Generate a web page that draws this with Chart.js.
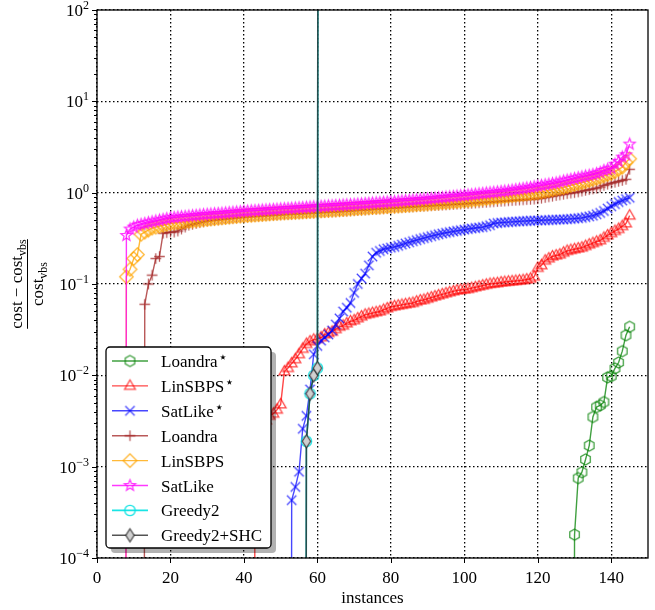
<!DOCTYPE html>
<html>
<head>
<meta charset="utf-8">
<script src="https://cdn.jsdelivr.net/npm/chart.js@4/dist/chart.umd.min.js"></script>
<style>
  body { margin: 0; background: #fff; }
  #wrap { width: 655px; height: 610px; }
</style>
</head>
<body>
<div id="wrap"><canvas id="chart" width="655" height="610"></canvas></div>
<script>
const SERIF = '"Liberation Serif", "DejaVu Serif", serif';

// ---- DATA (value 0 = same as VBS, Infinity = no solution) ----
const seriesNames = ['Loandra⋆', 'LinSBPS⋆', 'SatLike⋆', 'Loandra', 'LinSBPS', 'SatLike', 'Greedy2', 'Greedy2+SHC'];
const xTicks = [0, 20, 40, 60, 80, 100, 120, 140];
const yDecades = [-4, -3, -2, -1, 0, 1, 2];

const loandraStarFrom = 130;
const loandraStar = [0.00018, 0.00075, 0.00087, 0.0012, 0.0017, 0.0035, 0.0045, 0.0047, 0.0051, 0.0095,
  0.0098, 0.0119, 0.0138, 0.0184, 0.0275, 0.034];

const linSBPSStarFrom = 43;
const linSBPSStar = [0.0015, 0.002, 0.0026, 0.0032, 0.0036, 0.0038, 0.0042,
  0.0048, 0.011, 0.012, 0.0135, 0.015, 0.017, 0.0195, 0.022, 0.0235, 0.0245,
  0.025, 0.026, 0.028, 0.029, 0.030, 0.032, 0.034, 0.035, 0.037, 0.039,
  0.040, 0.042, 0.044, 0.046, 0.047, 0.048, 0.049, 0.050, 0.052, 0.054,
  0.056, 0.057, 0.058, 0.059, 0.060, 0.061, 0.062, 0.064, 0.066, 0.067,
  0.069, 0.071, 0.073, 0.075, 0.077, 0.079, 0.081, 0.083, 0.085, 0.086,
  0.087, 0.088, 0.09, 0.092, 0.094, 0.096, 0.098, 0.10, 0.101, 0.102,
  0.104, 0.105, 0.106, 0.107, 0.108, 0.109, 0.11, 0.112, 0.114, 0.12,
  0.15, 0.16, 0.18, 0.19, 0.20, 0.205, 0.21, 0.22, 0.23, 0.235,
  0.24, 0.245, 0.25, 0.26, 0.27, 0.28, 0.29, 0.30, 0.32, 0.34,
  0.36, 0.38, 0.40, 0.43, 0.46, 0.56];

const satLikeStarFrom = 53;
const satLikeStar = [0.00043, 0.0006, 0.00088, 0.0026, 0.0036, 0.007, 0.017,
  0.021, 0.024, 0.026, 0.028, 0.031, 0.036, 0.042, 0.05, 0.055, 0.062,
  0.08, 0.10, 0.115, 0.13, 0.16, 0.20, 0.22, 0.23, 0.24, 0.245,
  0.25, 0.255, 0.262, 0.27, 0.278, 0.286, 0.294, 0.302, 0.31, 0.318,
  0.326, 0.334, 0.342, 0.35, 0.357, 0.364, 0.37, 0.376, 0.382, 0.388,
  0.394, 0.40, 0.405, 0.41, 0.415, 0.42, 0.43, 0.44, 0.46, 0.465,
  0.47, 0.473, 0.476, 0.479, 0.482, 0.485, 0.488, 0.49, 0.492, 0.494,
  0.496, 0.498, 0.50, 0.502, 0.504, 0.506, 0.508, 0.51, 0.513, 0.516,
  0.52, 0.525, 0.53, 0.54, 0.55, 0.56, 0.58, 0.60, 0.63, 0.67,
  0.71, 0.75, 0.79, 0.82, 0.85, 0.88];

const loandraFrom = 13;
const loandra = [0.06, 0.10, 0.125, 0.19, 0.20, 0.36, 0.365,
  0.37, 0.37, 0.38, 0.40, 0.42, 0.44, 0.45, 0.46, 0.47, 0.48,
  0.49, 0.495, 0.50, 0.505, 0.51, 0.515, 0.52, 0.525, 0.53, 0.535,
  0.54, 0.543, 0.546, 0.55, 0.553, 0.556, 0.56, 0.563, 0.566, 0.57,
  0.573, 0.576, 0.579, 0.582, 0.585, 0.588, 0.591, 0.594, 0.597, 0.60,
  0.603, 0.606, 0.609, 0.612, 0.615, 0.618, 0.621, 0.624, 0.628, 0.632,
  0.636, 0.64, 0.644, 0.648, 0.652, 0.656, 0.66, 0.664, 0.668, 0.672,
  0.676, 0.68, 0.684, 0.688, 0.692, 0.696, 0.70, 0.704, 0.708, 0.712,
  0.716, 0.72, 0.724, 0.728, 0.732, 0.736, 0.74, 0.744, 0.748, 0.752,
  0.756, 0.76, 0.765, 0.77, 0.775, 0.78, 0.785, 0.79, 0.795, 0.80,
  0.805, 0.81, 0.815, 0.82, 0.825, 0.83, 0.835, 0.84, 0.845, 0.85,
  0.86, 0.87, 0.885, 0.90, 0.915, 0.93, 0.945, 0.96, 0.975, 0.99,
  1.0, 1.02, 1.04, 1.06, 1.08, 1.10, 1.12, 1.15, 1.20, 1.24,
  1.27, 1.30, 1.33, 1.36, 1.40, 1.8];

const linSBPSFrom = 8;
const linSBPS = [0.12, 0.145,
  0.19, 0.21, 0.35, 0.37, 0.39, 0.41, 0.42, 0.43, 0.44, 0.45,
  0.46, 0.465, 0.47, 0.475, 0.48, 0.485, 0.49, 0.495, 0.50, 0.505,
  0.51, 0.515, 0.52, 0.525, 0.53, 0.535, 0.54, 0.545, 0.55, 0.555,
  0.56, 0.563, 0.566, 0.57, 0.574, 0.578, 0.582, 0.586, 0.59, 0.594,
  0.598, 0.60, 0.603, 0.606, 0.61, 0.613, 0.616, 0.62, 0.623, 0.626,
  0.63, 0.633, 0.636, 0.64, 0.644, 0.648, 0.652, 0.656, 0.66, 0.664,
  0.668, 0.672, 0.676, 0.68, 0.684, 0.688, 0.692, 0.696, 0.70, 0.704,
  0.708, 0.712, 0.716, 0.72, 0.725, 0.73, 0.735, 0.74, 0.745, 0.75,
  0.755, 0.76, 0.766, 0.772, 0.778, 0.784, 0.79, 0.796, 0.802, 0.808,
  0.815, 0.822, 0.83, 0.838, 0.846, 0.855, 0.864, 0.873, 0.882, 0.891,
  0.90, 0.91, 0.92, 0.93, 0.94, 0.95, 0.96, 0.97, 0.98, 0.99,
  1.0, 1.02, 1.04, 1.06, 1.08, 1.10, 1.12, 1.14, 1.17, 1.20,
  1.23, 1.26, 1.29, 1.32, 1.36, 1.40, 1.44, 1.48, 1.53, 1.58,
  1.63, 1.70, 1.80, 1.90, 2.15, 2.35];

const satLikeFrom = 8;
const satLike = [0.34, 0.40,
  0.42, 0.44, 0.45, 0.46, 0.47, 0.48, 0.49, 0.50, 0.51, 0.52,
  0.53, 0.535, 0.54, 0.545, 0.55, 0.555, 0.56, 0.565, 0.57, 0.575,
  0.58, 0.584, 0.588, 0.592, 0.596, 0.60, 0.605, 0.61, 0.615, 0.62,
  0.625, 0.628, 0.632, 0.636, 0.64, 0.644, 0.648, 0.652, 0.656, 0.66,
  0.664, 0.668, 0.672, 0.676, 0.68, 0.684, 0.688, 0.692, 0.696, 0.70,
  0.704, 0.708, 0.712, 0.716, 0.72, 0.724, 0.728, 0.732, 0.736, 0.74,
  0.745, 0.75, 0.755, 0.76, 0.765, 0.77, 0.775, 0.78, 0.785, 0.79,
  0.795, 0.80, 0.806, 0.812, 0.818, 0.824, 0.83, 0.836, 0.842, 0.848,
  0.855, 0.862, 0.87, 0.878, 0.886, 0.894, 0.902, 0.91, 0.918, 0.926,
  0.935, 0.944, 0.953, 0.962, 0.972, 0.982, 0.992, 1.0, 1.01, 1.02,
  1.03, 1.04, 1.05, 1.065, 1.08, 1.095, 1.11, 1.125, 1.14, 1.16,
  1.18, 1.2, 1.22, 1.24, 1.26, 1.28, 1.31, 1.34, 1.37, 1.40,
  1.43, 1.46, 1.49, 1.52, 1.55, 1.58, 1.62, 1.67, 1.75, 1.80,
  1.85, 2.05, 2.2, 2.45, 2.6, 3.4];

const greedy2From = 57;
const greedy2 = [0.0019, 0.0063, 0.010, 0.012, Infinity];
const greedy2SHCFrom = 57;
const greedy2SHC = [0.0019, 0.0063, 0.010, 0.012, Infinity];

// ---- MARKERS ----
function makeMarker(kind, stroke, fill) {
  const c = document.createElement('canvas');
  c.width = 17; c.height = 17;
  const g = c.getContext('2d');
  const m = 8.5;
  g.strokeStyle = stroke;
  g.lineWidth = 1.3;
  g.beginPath();
  if (kind === 'hex') {
    for (let i = 0; i < 6; i++) {
      const a = -Math.PI / 2 + i * Math.PI / 3;
      const px = m + 5.5 * Math.cos(a), py = m + 5.5 * Math.sin(a);
      i ? g.lineTo(px, py) : g.moveTo(px, py);
    }
    g.closePath();
  } else if (kind === 'tri') {
    g.moveTo(m, m - 6); g.lineTo(m + 5.4, m + 3.3); g.lineTo(m - 5.4, m + 3.3); g.closePath();
  } else if (kind === 'x') {
    g.moveTo(m - 4.7, m - 4.7); g.lineTo(m + 4.7, m + 4.7);
    g.moveTo(m + 4.7, m - 4.7); g.lineTo(m - 4.7, m + 4.7);
  } else if (kind === 'plus') {
    g.moveTo(m - 5.3, m); g.lineTo(m + 5.3, m);
    g.moveTo(m, m - 5.3); g.lineTo(m, m + 5.3);
  } else if (kind === 'diamond') {
    g.moveTo(m, m - 6.8); g.lineTo(m + 6.8, m); g.lineTo(m, m + 6.8); g.lineTo(m - 6.8, m); g.closePath();
  } else if (kind === 'star') {
    for (let i = 0; i < 10; i++) {
      const r = i % 2 ? 2.5 : 5.8;
      const a = -Math.PI / 2 + i * Math.PI / 5;
      const px = m + r * Math.cos(a), py = m + r * Math.sin(a);
      i ? g.lineTo(px, py) : g.moveTo(px, py);
    }
    g.closePath();
  } else if (kind === 'circle') {
    g.arc(m, m, 5.2, 0, Math.PI * 2);
  } else if (kind === 'thin') {
    g.moveTo(m, m - 6.5); g.lineTo(m + 4.2, m); g.lineTo(m, m + 6.5); g.lineTo(m - 4.2, m); g.closePath();
  }
  if (fill) { g.fillStyle = fill; g.fill(); }
  g.stroke();
  return c;
}

const styles = [
  { color: 'rgba(0,128,0,0.75)', marker: 'hex' },
  { color: 'rgba(255,0,0,0.72)', marker: 'tri' },
  { color: 'rgba(0,0,255,0.72)', marker: 'x' },
  { color: 'rgba(165,42,42,0.78)', marker: 'plus' },
  { color: 'rgba(255,165,0,0.78)', marker: 'diamond' },
  { color: 'rgba(255,0,255,0.78)', marker: 'star' },
  { color: 'rgba(0,225,225,0.9)', marker: 'circle' },
  { color: 'rgba(40,40,40,0.8)', marker: 'thin', fill: '#d0d0d0' }
];

const seriesData = [
  [loandraStarFrom, loandraStar],
  [linSBPSStarFrom, linSBPSStar],
  [satLikeStarFrom, satLikeStar],
  [loandraFrom, loandra],
  [linSBPSFrom, linSBPS],
  [satLikeFrom, satLike],
  [greedy2From, greedy2],
  [greedy2SHCFrom, greedy2SHC]
];

// 0 and Infinity can't sit on a log axis, push them far off the plot so the line runs off the edge
function toPoints(from, values) {
  const pts = [{ x: from - 1, y: 0 }];
  values.forEach((v, i) => pts.push({ x: from + i, y: v }));
  return pts.map(p => ({ x: p.x, y: p.y === 0 ? 1e-30 : (isFinite(p.y) ? p.y : 1e30) }));
}

const datasets = seriesData.map(([from, vals], i) => ({
  label: seriesNames[i],
  data: toPoints(from, vals),
  borderColor: styles[i].color,
  borderWidth: i >= 6 ? 1.6 : 1.4,
  pointStyle: makeMarker(styles[i].marker, styles[i].color, styles[i].fill),
  pointRadius: 5,
  pointHoverRadius: 5,
  fill: false,
  tension: 0,
  order: 8 - i
}));

function isDecade(v) {
  const l = Math.log10(v);
  return Math.abs(l - Math.round(l)) < 1e-6;
}

// ---- AXES, LABELS, LEGEND ----
function roundRect(ctx, x, y, w, h, r) {
  ctx.beginPath();
  ctx.moveTo(x + r, y);
  ctx.arcTo(x + w, y, x + w, y + h, r);
  ctx.arcTo(x + w, y + h, x, y + h, r);
  ctx.arcTo(x, y + h, x, y, r);
  ctx.arcTo(x, y, x + w, y, r);
  ctx.closePath();
}

function drawParts(ctx, parts, cx, baseY) {
  let total = 0;
  parts.forEach(p => { ctx.font = p.f + 'px ' + SERIF; p.w = ctx.measureText(p.t).width; total += p.w; });
  let x = cx - total / 2;
  ctx.textAlign = 'left';
  parts.forEach(p => { ctx.font = p.f + 'px ' + SERIF; ctx.fillText(p.t, x, baseY + (p.dy || 0)); x += p.w; });
  return total;
}

const decorPlugin = {
  id: 'decor',
  afterDraw(chart) {
    const { ctx, chartArea: a, scales: { x: xs, y: ys } } = chart;
    ctx.save();
    // frame
    ctx.strokeStyle = '#000';
    ctx.lineWidth = 1.3;
    ctx.strokeRect(a.left, a.top, a.right - a.left, a.bottom - a.top);

    // ticks
    ctx.lineWidth = 1;
    ctx.beginPath();
    xTicks.forEach(v => {
      const px = Math.round(xs.getPixelForValue(v)) + 0.5;
      ctx.moveTo(px, a.bottom); ctx.lineTo(px, a.bottom + 5);
    });
    yDecades.forEach(e => {
      const py = Math.round(ys.getPixelForValue(Math.pow(10, e))) + 0.5;
      ctx.moveTo(a.left, py); ctx.lineTo(a.left - 5, py);
      if (e < 2) {
        for (let k = 2; k <= 9; k++) {
          const pm = Math.round(ys.getPixelForValue(k * Math.pow(10, e))) + 0.5;
          ctx.moveTo(a.left, pm); ctx.lineTo(a.left - 3, pm);
        }
      }
    });
    ctx.stroke();

    // tick labels
    ctx.fillStyle = '#000';
    ctx.textAlign = 'center';
    ctx.textBaseline = 'alphabetic';
    ctx.font = '17px ' + SERIF;
    xTicks.forEach(v => ctx.fillText(String(v), xs.getPixelForValue(v), 583));
    ctx.textAlign = 'right';
    yDecades.forEach(e => {
      const py = ys.getPixelForValue(Math.pow(10, e));
      const exp = e < 0 ? '\u2212' + (-e) : String(e);
      ctx.font = '12px ' + SERIF;
      const ew = ctx.measureText(exp).width;
      ctx.fillText(exp, 89, py - 1);
      ctx.font = '17px ' + SERIF;
      ctx.fillText('10', 89 - ew, py + 6);
    });

    // axis titles
    ctx.textAlign = 'center';
    ctx.font = '17px ' + SERIF;
    ctx.fillText('instances', (a.left + a.right) / 2, 603);

    ctx.save();
    ctx.translate(27, (a.top + a.bottom) / 2);
    ctx.rotate(-Math.PI / 2);
    const wn = drawParts(ctx, [{ t: 'cost \u2212 cost', f: 17 }, { t: 'vbs', f: 12, dy: 4 }], 0, -5);
    drawParts(ctx, [{ t: 'cost', f: 17 }, { t: 'vbs', f: 12, dy: 4 }], 0, 16);
    ctx.lineWidth = 1;
    ctx.beginPath(); ctx.moveTo(-wn / 2, 0.5); ctx.lineTo(wn / 2, 0.5); ctx.stroke();
    ctx.restore();

    // legend
    const lx = 106, ly = 347, lw = 165, lh = 201;
    ctx.fillStyle = 'rgba(0,0,0,0.3)';
    roundRect(ctx, lx + 5, ly + 5, lw, lh, 4); ctx.fill();
    ctx.fillStyle = '#fff';
    roundRect(ctx, lx, ly, lw, lh, 4); ctx.fill();
    ctx.strokeStyle = '#000'; ctx.lineWidth = 1.3; ctx.stroke();

    chart.data.datasets.forEach((ds, i) => {
      const y = 361 + i * 24.9;
      ctx.strokeStyle = ds.borderColor;
      ctx.lineWidth = ds.borderWidth;
      ctx.beginPath(); ctx.moveTo(112, y); ctx.lineTo(148, y); ctx.stroke();
      const img = ds.pointStyle;
      ctx.drawImage(img, 130 - img.width / 2, y - img.height / 2);
      ctx.fillStyle = '#000';
      ctx.textAlign = 'left';
      const star = ds.label.endsWith('⋆');
      const name = star ? ds.label.slice(0, -1) : ds.label;
      ctx.font = '17px ' + SERIF;
      ctx.fillText(name, 161, y + 6);
      if (star) {
        const w = ctx.measureText(name).width;
        ctx.font = '15px "DejaVu Sans", sans-serif';
        ctx.fillText('⋆', 161 + w + 0.5, y + 1);
      }
    });
    ctx.restore();
  }
};

new Chart(document.getElementById('chart'), {
  type: 'line',
  data: { datasets },
  options: {
    responsive: false,
    animation: false,
    devicePixelRatio: 1,
    layout: { padding: { left: 97, top: 10, right: 7, bottom: 52 } },
    plugins: { legend: { display: false }, tooltip: { enabled: false } },
    scales: {
      x: {
        type: 'linear', min: 0, max: 150,
        ticks: { display: false, stepSize: 20, includeBounds: false },
        grid: { color: '#000', lineWidth: 1.3, drawTicks: false },
        border: { display: false, dash: [1.5, 2.5] }
      },
      y: {
        type: 'logarithmic', min: 1e-4, max: 100,
        ticks: { display: false },
        grid: { color: c => isDecade(c.tick.value) ? '#000' : 'rgba(0,0,0,0)', lineWidth: 1.3, drawTicks: false },
        border: { display: false, dash: [1.5, 2.5] }
      }
    }
  },
  plugins: [decorPlugin]
});
</script>
</body>
</html>
